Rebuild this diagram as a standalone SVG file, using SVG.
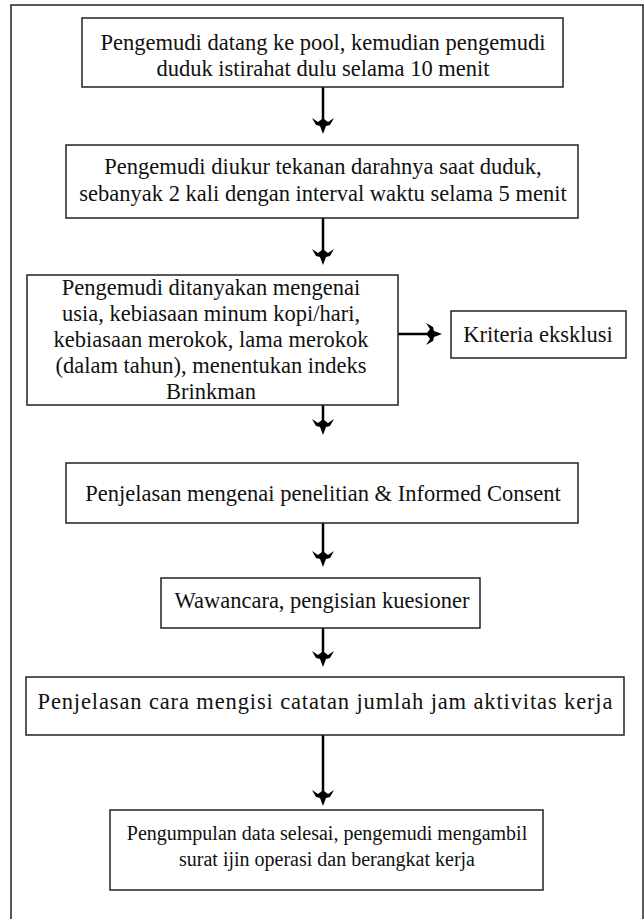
<svg xmlns="http://www.w3.org/2000/svg" width="644" height="919" viewBox="0 0 644 919">
<style>
.box{fill:#fff;stroke:#222;stroke-width:1.5}
.t{font-family:"Liberation Serif","Times New Roman",serif;font-size:22.5px;fill:#111;text-anchor:middle}
.s{font-size:20px}
.c{stroke:#000;stroke-width:2.5;fill:none}
</style>
<defs>
<marker id="ah" viewBox="-12 -12 24 24" markerWidth="24" markerHeight="24" refX="0" refY="0" orient="auto" markerUnits="userSpaceOnUse">
<path d="M-11,-10 L-5,-6 L-1,-9 L0,-12 L1,-9 L5,-6 L11,-10 L7,-3 L3,-2 L0,6 L-3,-2 L-7,-3 Z" transform="rotate(-90)" fill="#000"/>
</marker>
</defs>
<rect x="0" y="0" width="644" height="919" fill="#fff"/>
<rect x="11" y="5" width="632" height="930" fill="none" stroke="#222" stroke-width="1.5"/>
<g id="connectors">
<line class="c" x1="323" y1="87" x2="323" y2="128" marker-end="url(#ah)"/>
<line class="c" x1="323" y1="218" x2="323" y2="259" marker-end="url(#ah)"/>
<line class="c" x1="398" y1="334" x2="436" y2="334" marker-end="url(#ah)"/>
<line class="c" x1="323" y1="405" x2="323" y2="429" marker-end="url(#ah)"/>
<line class="c" x1="323" y1="523" x2="323" y2="561" marker-end="url(#ah)"/>
<line class="c" x1="323" y1="628" x2="323" y2="661" marker-end="url(#ah)"/>
<line class="c" x1="323" y1="735" x2="323" y2="800" marker-end="url(#ah)"/>
</g>
<g id="n1"><rect class="box" x="82" y="18" width="481" height="69"/>
<text class="t" x="323" y="50">Pengemudi datang ke pool, kemudian pengemudi</text>
<text class="t" x="323" y="76">duduk istirahat dulu  selama 10 menit</text></g>
<g id="n2"><rect class="box" x="66" y="145" width="512" height="73"/>
<text class="t" x="323" y="174">Pengemudi diukur tekanan darahnya saat duduk,</text>
<text class="t" x="323" y="201">sebanyak 2 kali dengan interval waktu selama 5 menit</text></g>
<g id="n3"><rect class="box" x="27" y="275" width="371" height="130"/>
<text class="t" x="211" y="295">Pengemudi ditanyakan mengenai</text>
<text class="t" x="211" y="321">usia, kebiasaan minum kopi/hari,</text>
<text class="t" x="211" y="347">kebiasaan merokok, lama merokok</text>
<text class="t" x="211" y="373">(dalam tahun), menentukan indeks</text>
<text class="t" x="211" y="399">Brinkman</text></g>
<g id="n4"><rect class="box" x="451" y="311" width="175" height="47"/>
<text class="t" x="538" y="342">Kriteria eksklusi</text></g>
<g id="n5"><rect class="box" x="66" y="463" width="512" height="60"/>
<text class="t" x="323" y="501">Penjelasan mengenai penelitian &amp; Informed Consent</text></g>
<g id="n6"><rect class="box" x="161" y="578" width="319" height="50"/>
<text class="t" x="322" y="608">Wawancara, pengisian kuesioner</text></g>
<g id="n7"><rect class="box" x="26" y="677" width="598" height="58"/>
<text class="t" x="325" y="709" textLength="575" lengthAdjust="spacing">Penjelasan cara mengisi catatan jumlah jam aktivitas kerja</text></g>
<g id="n8"><rect class="box" x="110" y="810" width="433" height="80"/>
<text class="t s" x="327" y="840">Pengumpulan data selesai, pengemudi mengambil</text>
<text class="t s" x="327" y="866">surat ijin operasi dan berangkat kerja</text></g>
</svg>
